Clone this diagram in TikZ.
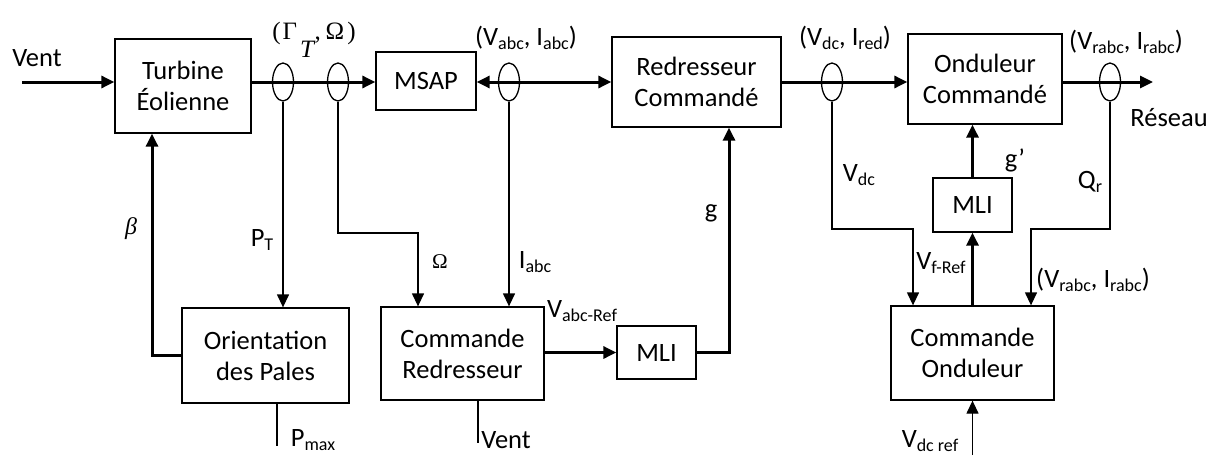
\documentclass[tikz,border=0pt]{standalone}
\usepackage{fontspec}
\setmainfont{Carlito}
\newfontfamily\grserif{Liberation Serif}
\usetikzlibrary{arrows.meta,shapes.geometric}
\newcommand{\sbx}[1]{\raisebox{-0.28ex}{\fontsize{18}{18}\selectfont #1}}
\begin{document}
\begin{tikzpicture}[x=1pt,y=-1pt,
  txt/.style={font=\fontsize{26.5}{31}\selectfont, inner sep=0pt},
  blk/.style={draw, line width=1.3pt, inner sep=0pt, align=center, font=\fontsize{26.5}{31}\selectfont},
  sens/.style={draw, ellipse, line width=1.3pt, minimum width=21pt, minimum height=38pt, inner sep=0pt},
  thk/.style={line width=3pt},
  thn/.style={line width=1.3pt},
  arr/.style={-{Triangle[length=13pt,width=12pt]}},
  darr/.style={{Triangle[length=13pt,width=12pt]}-{Triangle[length=13pt,width=12pt]}}
]
\useasboundingbox (0,0) rectangle (1207,455);
\coordinate (m) at (0,82);
% blocks
\node[blk, minimum width=136pt, minimum height=94pt] (turb) at (183,86) {Turbine\\Éolienne};
\node[blk, minimum width=100pt, minimum height=58pt] (msap) at (426,81) {MSAP};
\node[blk, minimum width=169pt, minimum height=90pt] (red) at (696.5,82) {Redresseur\\Commandé};
\node[blk, minimum width=154pt, minimum height=90pt] (ond) at (985,79) {Onduleur\\Commandé};
\node[blk, minimum width=167pt, minimum height=95pt] (orient) at (265.5,355.5) {Orientation\\des Pales};
\node[blk, minimum width=163pt, minimum height=93pt] (cred) at (462.5,353.5) {Commande\\Redresseur};
\node[blk, minimum width=79pt, minimum height=53pt] (mli1) at (656.5,352.5) {MLI};
\node[blk, minimum width=79pt, minimum height=54pt] (mli2) at (972.5,205) {MLI};
\node[blk, minimum width=163pt, minimum height=94pt] (cond) at (972.5,353) {Commande\\Onduleur};
% sensors
\node[sens] (e1) at (283,82) {};
\node[sens] (e2) at (338,82) {};
\node[sens] (e3) at (509,82) {};
\node[sens] (e4) at (832,82) {};
\node[sens] (e5) at (1110,82) {};
% coordinates
\coordinate (vin) at (22,82);
\coordinate (out) at (1153,82);
\coordinate (k2) at (418,233);
\coordinate (bk) at (152,355);
\coordinate (pm) at (277,446);
\coordinate (gk) at (729,352.5);
\coordinate (v2) at (478,443);
\coordinate (k4) at (913,229);
\coordinate (k5) at (1031,229);
\coordinate (vr) at (972.5,455);
% main line
\draw[thk,arr] (vin) -- (turb.west |- m);
\draw[thk,arr] (turb.east |- m) -- (msap.west |- m);
\draw[thk,darr] (msap.east |- m) -- (red.west |- m);
\draw[thk,arr] (red.east |- m) -- (ond.west |- m);
\draw[thk,arr] (ond.east |- m) -- (out);
% measurement lines
\draw[thn,arr] (e1.south) -- (e1.south |- orient.north);
\draw[thn,arr] (e2.south) |- (k2) -- (k2 |- cred.north);
\draw[thn,arr] (e3.south) -- (e3.south |- cred.north);
\draw[thn,arr] (e4.south) |- (k4) -- (k4 |- cond.north);
\draw[thn,arr] (e5.south) |- (k5) -- (k5 |- cond.north);
% control lines
\draw[thk,arr] (orient.west |- bk) -- (bk) -- (bk |- turb.south);
\draw[thn] (pm |- orient.south) -- (pm);
\draw[thk,arr] (cred.east |- mli1.west) -- (mli1.west);
\draw[thk,arr] (mli1.east) -- (gk) -- (gk |- red.south);
\draw[thn] (v2 |- cred.south) -- (v2);
\draw[thk,arr] (cond.north) -- (mli2.south);
\draw[thk,arr] (mli2.north) -- (mli2.north |- ond.south);
\draw[thn,arr] (vr) -- (vr |- cond.south);
% labels
\node[txt] (lvent) at (37,58) {Vent};
\node[inner sep=0pt, font=\fontsize{25}{25}\selectfont\grserif] (lgo) at (314,40) {(\kern0.08em Γ\kern0.12em\raisebox{-0.72em}{\itshape T}\kern0.02em,\kern0.2em Ω\kern0.12em)};
\node[txt] (lvi1) at (526,38) {(V\sbx{abc}, I\sbx{abc})};
\node[txt] (lvi2) at (845,38) {(V\sbx{dc}, I\sbx{red})};
\node[txt] (lvi3) at (1126,42) {(V\sbx{rabc}, I\sbx{rabc})};
\node[txt] (lres) at (1169,118) {Réseau};
\node[inner sep=0pt, font=\fontsize{24}{24}\selectfont\grserif\itshape] (lbeta) at (131,229) {β};
\node[txt] (lpt) at (262,240) {P\sbx{T}};
\node[inner sep=0pt, font=\fontsize{21}{21}\selectfont\grserif] (lom) at (440,262) {Ω};
\node[txt] (liabc) at (535,262) {I\sbx{abc}};
\node[txt] (lvref) at (582,311) {V\sbx{abc-Ref}};
\node[txt] (lg) at (711,213) {g};
\node[txt] (lvdc) at (859,175) {V\sbx{dc}};
\node[txt] (lgp) at (1015,160) {g’};
\node[txt] (lqr) at (1090,182) {Q\sbx{r}};
\node[txt] (lvf) at (941,263) {V\sbx{f-Ref}};
\node[txt] (lvi4) at (1093,280) {(V\sbx{rabc}, I\sbx{rabc})};
\node[txt] (lpmax) at (313,440) {P\sbx{max}};
\node[txt] (lvent2) at (506,440) {Vent};
\node[txt] (lvdcr) at (930,441) {V\sbx{dc ref}};
\end{tikzpicture}
\end{document}
